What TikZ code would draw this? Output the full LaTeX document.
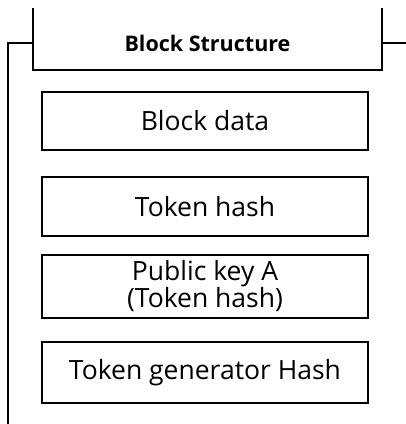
\documentclass[tikz,border=0pt]{standalone}
\usepackage{fontspec}
\setmainfont{Open Sans}
\usetikzlibrary{positioning}

\begin{document}
\begin{tikzpicture}[x=1pt,y=-1pt,line width=2pt]
  \tikzset{
    field/.style={draw,minimum width=326pt,inner sep=0pt,align=center,
      font=\fontsize{26.5}{27}\selectfont},
    head/.style={minimum width=347pt,minimum height=52pt,inner sep=0pt,
      font=\bfseries\fontsize{21.5}{22}\selectfont}
  }
  \useasboundingbox (0,0) rectangle (406,424);

  % Header with open top
  \node[head] (hdr) at (207.5,43) {Block Structure};
  \draw ([yshift=8pt]hdr.north west) -- (hdr.south west)
    -- (hdr.south east) -- ([yshift=8pt]hdr.north east);

  % Side rails
  \coordinate (railbot) at (8,424);
  \coordinate (railend) at (406,43);
  \draw (hdr.west) -- (railbot |- hdr.west) -- (railbot);
  \draw (hdr.east) -- (railend);

  % Block fields
  \node[field,minimum height=58pt] (data) at (205,121) {Block data};
  \node[field,minimum height=59pt] (thash) at (205,206.5) {Token hash};
  \node[field,minimum height=63pt] (pubkey) at (205,286.5)
    {Public key A\\(Token hash)};
  \node[field,minimum height=61pt] (genhash) at (205,372.5)
    {Token generator Hash};
\end{tikzpicture}
\end{document}
